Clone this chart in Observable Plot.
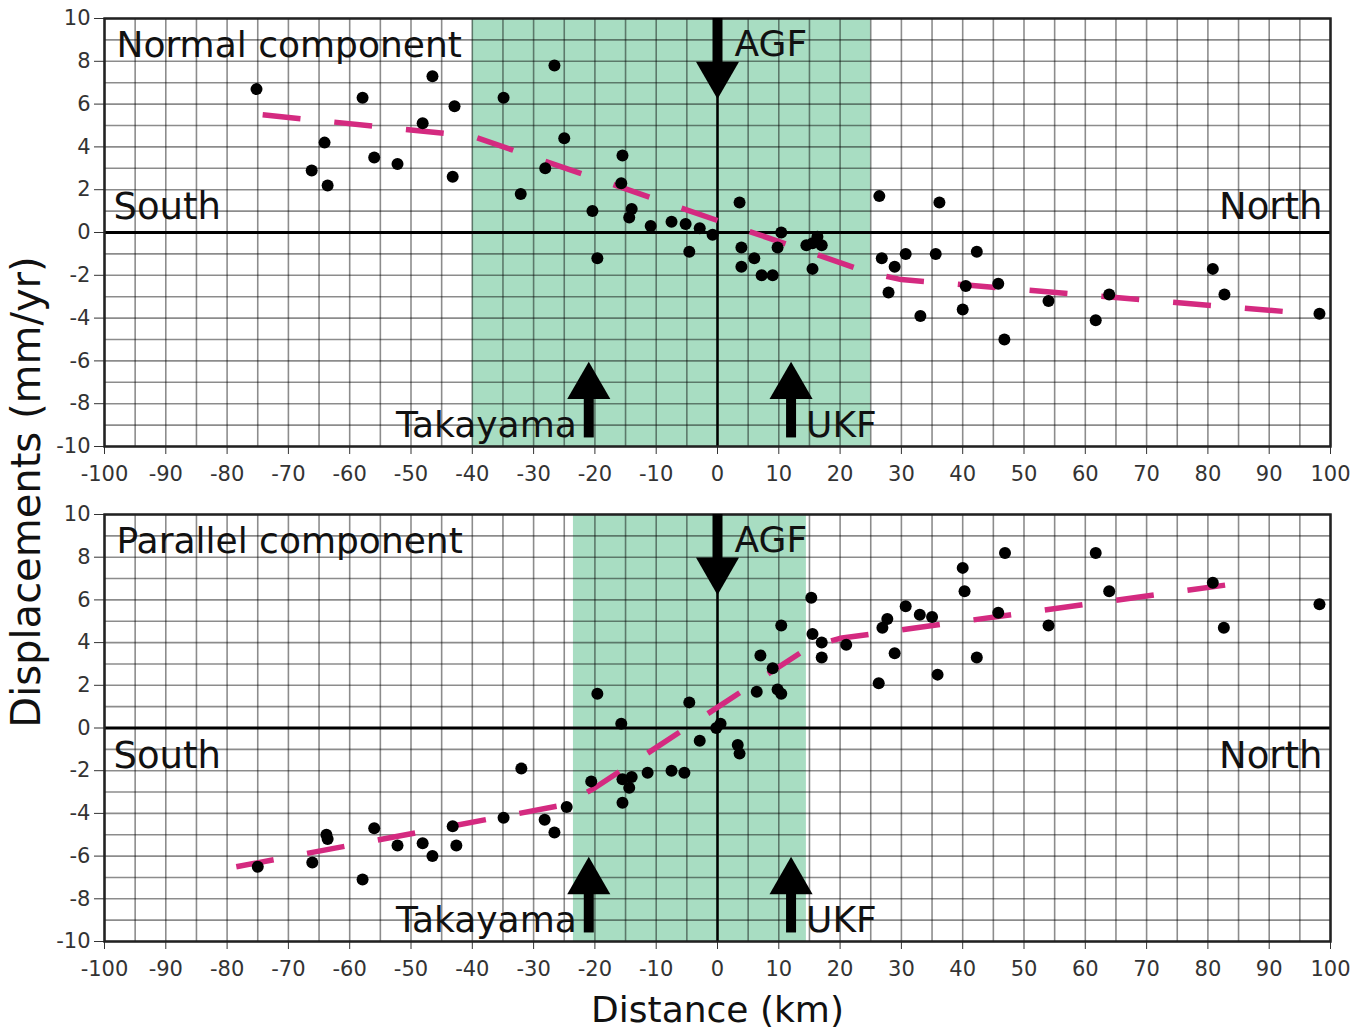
<!DOCTYPE html>
<html>
<head>
<meta charset="utf-8">
<script src="https://cdn.jsdelivr.net/npm/d3@7"></script>
<script src="https://cdn.jsdelivr.net/npm/@observablehq/plot@0.6"></script>
<style>
  html, body { margin: 0; padding: 0; background: #fff; }
  #wrap { position: relative; width: 1354px; height: 1030px; overflow: hidden; }
  #wrap svg { position: absolute; left: 0; }
  #ylab { position: absolute; left: 26px; top: 492px; transform: translate(-50%, -50%) rotate(-90deg);
          white-space: nowrap; font: 40px "DejaVu Sans", sans-serif; color: #111; }
</style>
</head>
<body>
<div id="wrap"><div id="ylab">Displacements (mm/yr)</div></div>
<script>
// ---------- Data ----------
const xTicks = d3.range(-100, 101, 10);
const yTicks = d3.range(-10, 11, 2);

// Normal component (top panel)
const normalX = [-75.2,-57.9,-46.5,-48.1,-64.1,-56.0,-52.2,-66.2,-63.6,-42.9,-43.2,-26.6,-34.9,-25.0,-28.1,-32.1,-15.5,-15.7,-20.4,-14.0,-14.4,-10.9,-7.5,-5.2,-2.9,-0.8,-19.6,-4.6,3.6,3.9,6.0,3.9,7.2,9.0,10.4,9.8,15.5,17.0,16.3,15.5,14.5,26.4,26.8,28.9,30.7,27.9,33.1,35.6,36.2,42.3,40.5,40.0,45.8,46.8,54.0,63.9,61.7,80.8,82.7,98.2];
const normalY = [6.7,6.3,7.3,5.1,4.2,3.5,3.2,2.9,2.2,5.9,2.6,7.8,6.3,4.4,3.0,1.8,3.6,2.3,1.0,1.1,0.7,0.3,0.5,0.4,0.2,-0.1,-1.2,-0.9,1.4,-0.7,-1.2,-1.6,-2.0,-2.0,0.0,-0.7,-0.5,-0.6,-0.2,-1.7,-0.6,1.7,-1.2,-1.6,-1.0,-2.8,-3.9,-1.0,1.4,-0.9,-2.5,-3.6,-2.4,-5.0,-3.2,-2.9,-4.1,-1.7,-2.9,-3.8];
const normalTrendX = [-74.2, -40, 25, 30, 97];
const normalTrendY = [5.5, 4.5, -1.9, -2.2, -3.8];
const normalZone = [-40, 25];

// Parallel component (bottom panel)
const parallelX = [-75.0,-66.1,-63.8,-63.6,-57.9,-56.0,-52.2,-48.1,-46.5,-43.2,-42.6,-34.9,-32.0,-24.6,-28.2,-26.6,-20.6,-15.5,-14.0,-14.4,-15.5,-11.4,-7.5,-5.4,-2.9,-0.2,0.5,3.3,3.6,-15.7,-19.6,-4.6,6.4,7.0,9.0,10.4,9.8,10.4,15.3,15.5,17.0,17.0,21.0,26.3,27.7,26.9,28.9,30.7,33.0,35.0,35.9,40.0,40.3,42.3,45.8,46.9,54.0,61.7,63.9,80.8,82.6,98.2];
const parallelY = [-6.5,-6.3,-5.0,-5.2,-7.1,-4.7,-5.5,-5.4,-6.0,-4.6,-5.5,-4.2,-1.9,-3.7,-4.3,-4.9,-2.5,-2.4,-2.3,-2.8,-3.5,-2.1,-2.0,-2.1,-0.6,0.0,0.2,-0.8,-1.2,0.2,1.6,1.2,1.7,3.4,2.8,1.6,1.8,4.8,6.1,4.4,4.0,3.3,3.9,2.1,5.1,4.7,3.5,5.7,5.3,5.2,2.5,7.5,6.4,3.3,5.4,8.2,4.8,8.2,6.4,6.8,4.7,5.8];
const parallelTrendX = [-78.5, -25, -20, 15, 20, 85.5];
const parallelTrendY = [-6.5, -3.6, -2.8, 3.8, 4.2, 6.8];
const parallelZone = [-23.5, 14.5];

// Faults (annotations)
const faultNames = ["AGF", "Takayama", "UKF"];
const faultX = [0, -21, 12];
const faultDir = ["down", "up", "up"];

// ---------- Styles ----------
const FONT = "DejaVu Sans";
const GREEN = "#a8ddc2";
const TREND = "#d42a80";

function pts(xs, ys) { return xs.map((x, i) => ({x, y: ys[i]})); }

function faults() {
  return faultNames.map((name, i) => {
    const down = faultDir[i] === "down";
    return {
      name, x: faultX[i], down,
      s1: down ? 10 : -9.6, s2: down ? 7.4 : -7.2,
      head: down ? 7.4 : -7.2,
      ly: down ? 8.8 : -9.0
    };
  });
}

function panel({title, pX, pY, tX, tY, zone, height, mTop, mBottom, southY, xlabel}) {
  const fs = faults();
  const lbl = {fontSize: 36, fontFamily: FONT, fill: "#111"};
  const marks = [
    Plot.rect([{x1: zone[0], x2: zone[1]}], {x1: "x1", x2: "x2", fill: GREEN}),
    Plot.gridX(d3.range(-100, 101, 5), {stroke: "black", strokeOpacity: 0.45, strokeWidth: 1.6}),
    Plot.gridY(d3.range(-10, 11, 1), {stroke: "black", strokeOpacity: 0.45, strokeWidth: 1.6}),
    Plot.ruleY([0], {stroke: "black", strokeWidth: 3}),
    Plot.ruleX([0], {stroke: "black", strokeWidth: 2.5}),
    Plot.frame({stroke: "#222", strokeWidth: 2.5}),
    Plot.line(pts(tX, tY), {x: "x", y: "y", stroke: TREND, strokeWidth: 5.5, strokeDasharray: "38,34", strokeLinecap: "butt"}),
    Plot.dot(pts(pX, pY), {x: "x", y: "y", r: 6, fill: "black"}),
    Plot.ruleX(fs, {x: "x", y1: "s1", y2: "s2", stroke: "black", strokeWidth: 10}),
    Plot.dot(fs, {x: "x", y: "head", symbol: "triangle", r: 16, fill: "black", rotate: d => d.down ? 180 : 0}),
    Plot.text(fs.filter(d => d.name === "AGF"), {x: "x", y: "ly", text: "name", dx: 17, textAnchor: "start", ...lbl}),
    Plot.text(fs.filter(d => d.name === "UKF"), {x: "x", y: "ly", text: "name", dx: 15, textAnchor: "start", ...lbl}),
    Plot.text(fs.filter(d => d.name === "Takayama"), {x: "x", y: "ly", text: "name", dx: -12, textAnchor: "end", ...lbl, ariaLabel: "boxed"}),
    Plot.text([title], {frameAnchor: "top-left", dx: 12, dy: 27, textAnchor: "start", lineAnchor: "middle", ...lbl, ariaLabel: "boxed"}),
    Plot.text([{t: "South", y: southY}], {frameAnchor: "left", y: "y", text: "t", dx: 9, textAnchor: "start", ...lbl, fontSize: 37, ariaLabel: "boxed"}),
    Plot.text([{t: "North", y: southY}], {frameAnchor: "right", y: "y", text: "t", dx: -8, textAnchor: "end", ...lbl, fontSize: 37, ariaLabel: "boxed"})
  ];
  if (xlabel) {
    marks.push(Plot.text([xlabel], {frameAnchor: "bottom", dy: 69, lineAnchor: "middle", ...lbl}));
  }
  return Plot.plot({
    width: 1354, height,
    marginLeft: 104, marginRight: 24, marginTop: mTop, marginBottom: mBottom,
    style: {fontSize: "21px", fontFamily: FONT, color: "#333", background: "transparent", overflow: "visible"},
    x: {domain: [-100, 100], ticks: xTicks, tickSize: 8, tickPadding: 12, tickFormat: d => String(d), label: null},
    y: {domain: [-10, 10], ticks: yTicks, tickSize: 10, tickPadding: 4, tickFormat: d => String(d), label: null},
    marks
  });
}

const wrap = document.getElementById("wrap");
const topPanel = panel({title: "Normal component", pX: normalX, pY: normalY, tX: normalTrendX, tY: normalTrendY,
  zone: normalZone, height: 500, mTop: 18, mBottom: 54, southY: 1.2});
topPanel.style.top = "0px";
wrap.appendChild(topPanel);

const bottomPanel = panel({title: "Parallel component", pX: parallelX, pY: parallelY, tX: parallelTrendX, tY: parallelTrendY,
  zone: parallelZone, height: 530, mTop: 14, mBottom: 89, southY: -1.3, xlabel: "Distance (km)"});
bottomPanel.style.top = "500px";
wrap.appendChild(bottomPanel);

// white boxes behind selected labels
for (const svg of [topPanel, bottomPanel]) {
  svg.querySelectorAll('g[aria-label="boxed"] text').forEach(t => {
    const b = t.getBBox();
    const r = document.createElementNS("http://www.w3.org/2000/svg", "rect");
    r.setAttribute("x", b.x - 3); r.setAttribute("y", b.y + 2);
    r.setAttribute("width", b.width + 6); r.setAttribute("height", b.height - 2);
    r.setAttribute("fill", "white"); r.setAttribute("stroke", "none");
    const tr = t.getAttribute("transform");
    if (tr) r.setAttribute("transform", tr);
    t.parentNode.insertBefore(r, t);
  });
}
</script>
</body>
</html>
